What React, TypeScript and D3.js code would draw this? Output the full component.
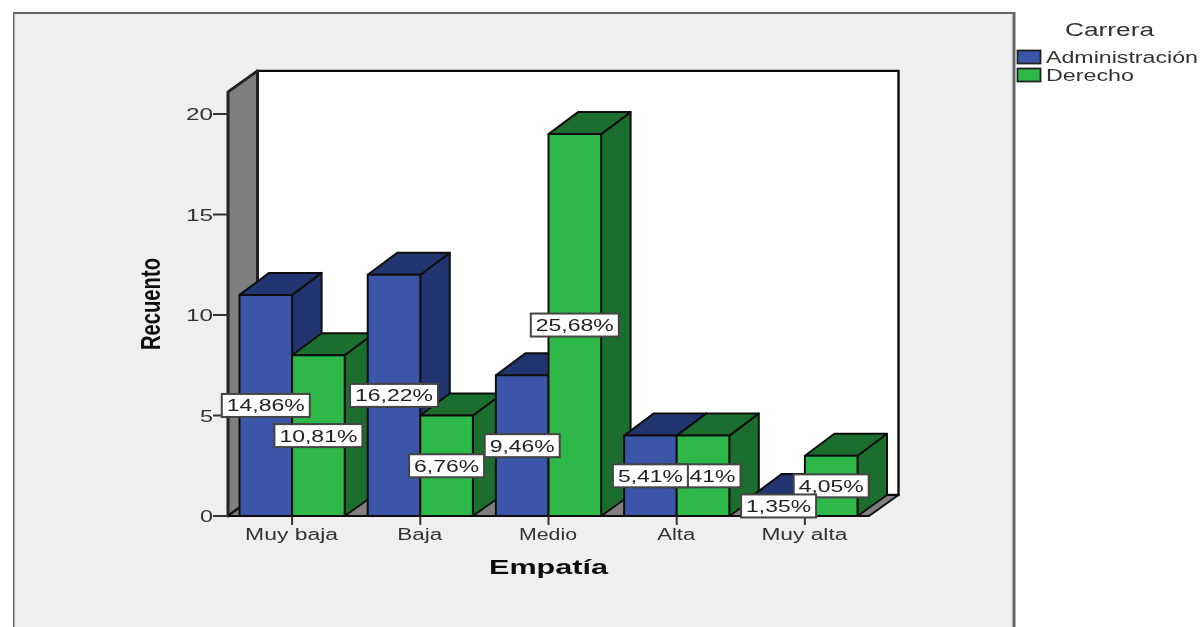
import React from "react";
import * as d3 from "d3";

const categories = ["Muy baja", "Baja", "Medio", "Alta", "Muy alta"];
const series = ["Administración", "Derecho"];
const adminCounts = [11, 12, 7, 4, 1];
const derechoCounts = [8, 5, 19, 4, 3];
const adminLabels = ["14,86%", "16,22%", "9,46%", "5,41%", "1,35%"];
const derechoLabels = ["10,81%", "6,76%", "25,68%", "5,41%", "4,05%"];
const yTicks = [0, 5, 10, 15, 20];
const xLabelWidths = [93, 45, 58, 38, 86];

const x0 = 228, x1 = 869, yBase = 516, yTop20 = 114;
const dx = 29.5, dy = -21, barDy = -22;
const font = "'Liberation Sans', Arial, sans-serif";
const stroke = "#111";
const colors = [
  { front: "#3b56a8", dark: "#243570" },
  { front: "#2db84a", dark: "#1c6e2e" },
];

const xScale = d3.scaleBand<string>().domain(categories).range([x0, x1]);
const yScale = d3.scaleLinear().domain([0, 20]).range([yBase, yTop20]);
const barWidth = 52.6;
const barX = (ci: number, si: number) =>
  (xScale(categories[ci]) as number) + xScale.bandwidth() / 2 + (si - 1) * barWidth;

const poly = (pts: [number, number][]) => {
  const p = d3.path();
  pts.forEach(([a, b], i) => (i ? p.lineTo(a, b) : p.moveTo(a, b)));
  p.closePath();
  return p.toString();
};

function Bar({ ci, si, v }: { ci: number; si: number; v: number }) {
  const l = barX(ci, si), r = l + barWidth, t = yScale(v), b = yScale(0);
  const c = colors[si];
  return (
    <g stroke={stroke} strokeWidth={2} strokeLinejoin="round">
      <path d={poly([[r, t], [r + dx, t + barDy], [r + dx, b + dy], [r, b]])} fill={c.dark} />
      <path d={poly([[l, t], [l + dx, t + barDy], [r + dx, t + barDy], [r, t]])} fill={c.dark} />
      <path d={poly([[l, t], [r, t], [r, b], [l, b]])} fill={c.front} />
    </g>
  );
}

function Label({ ci, si, v, text }: { ci: number; si: number; v: number; text: string }) {
  const cx = barX(ci, si) + barWidth / 2;
  const cy = yScale(v / 2);
  const w = text.indexOf(",") === 2 ? 88 : 75;
  return (
    <g>
      <rect x={cx - w / 2} y={cy - 11.5} width={w} height={23} fill="#fff" stroke="#444" strokeWidth={2} />
      <text x={cx} y={cy + 6} textAnchor="middle" fontFamily={font} fontSize={17} fill="#222"
        textLength={w - 10} lengthAdjust="spacingAndGlyphs">{text}</text>
    </g>
  );
}

export default function App() {
  const adj = (
    s: string, x: number, y: number, w: number, size: number,
    anchor: "start" | "middle" | "end" = "middle", weight = "normal", fill = "#333"
  ) => (
    <text x={x} y={y} textAnchor={anchor} fontFamily={font} fontSize={size} fontWeight={weight}
      fill={fill} textLength={w} lengthAdjust="spacingAndGlyphs">{s}</text>
  );
  const yFloor = yScale(0);
  const wallTop = yScale(21.1);
  return (
    <svg width={1201} height={627} style={{ position: "absolute", left: 0, top: 0, display: "block" }}>
      <defs>
        <filter id="soft" x="0" y="0" width="100%" height="100%">
          <feGaussianBlur stdDeviation="0.45" />
        </filter>
      </defs>
      <rect x={0} y={0} width={1201} height={627} fill="#fff" />
      <g filter="url(#soft)">
        <rect x={13} y={12.5} width={1001} height={640} fill="#efefef" stroke="#666" strokeWidth={3} />

        <path d={poly([[x0 + dx, wallTop + dy], [x1 + dx, wallTop + dy], [x1 + dx, yFloor + dy], [x0 + dx, yFloor + dy]])}
          fill="#fff" stroke={stroke} strokeWidth={2.4} />
        <path d={poly([[x0, wallTop], [x0 + dx, wallTop + dy], [x0 + dx, yFloor + dy], [x0, yFloor]])}
          fill="#7f7f7f" stroke="#222" strokeWidth={3} strokeLinejoin="round" />
        <path d={poly([[x0, yFloor], [x0 + dx, yFloor + dy], [x1 + dx, yFloor + dy], [x1, yFloor]])}
          fill="#7f7f7f" stroke={stroke} strokeWidth={2} strokeLinejoin="round" />

        {categories.map((_, ci) => (
          <g key={ci}>
            <Bar ci={ci} si={0} v={adminCounts[ci]} />
            <Bar ci={ci} si={1} v={derechoCounts[ci]} />
          </g>
        ))}

        <line x1={x0 - 15} x2={x1} y1={yFloor} y2={yFloor} stroke={stroke} strokeWidth={2.2} />
        {yTicks.map((t) => (
          <g key={t}>
            <line x1={x0 - 15} x2={x0} y1={yScale(t)} y2={yScale(t)} stroke="#333" strokeWidth={2} />
            {adj(String(t), x0 - 15, yScale(t) + 6, t < 10 ? 13 : 27, 16, "end")}
          </g>
        ))}
        {categories.map((c, i) => {
          const cx = (xScale(c) as number) + xScale.bandwidth() / 2;
          return (
            <g key={c}>
              <line x1={cx} x2={cx} y1={yFloor} y2={yFloor + 9} stroke="#333" strokeWidth={2} />
              {adj(c, cx - 0.5, 540, xLabelWidths[i], 16)}
            </g>
          );
        })}

        {derechoCounts.map((v, i) => <Label key={i} ci={i} si={1} v={v} text={derechoLabels[i]} />)}
        {adminCounts.map((v, i) => <Label key={i} ci={i} si={0} v={v} text={adminLabels[i]} />)}

        {adj("Empatía", 548.5, 574, 119, 20, "middle", "bold", "#111")}
        <g transform="translate(160,304) rotate(-90)">
          {adj("Recuento", 0, 0, 92, 27, "middle", "bold", "#111")}
        </g>

        {adj("Carrera", 1109.5, 36, 89, 18)}
        {series.map((s, i) => (
          <g key={s}>
            <rect x={1017.5} y={50.5 + i * 18} width={23} height={13} fill={colors[i].front} stroke="#222" strokeWidth={1.8} />
            {adj(s, 1046, 63 + i * 17.5, i === 0 ? 152 : 88, 16, "start")}
          </g>
        ))}
      </g>
    </svg>
  );
}
